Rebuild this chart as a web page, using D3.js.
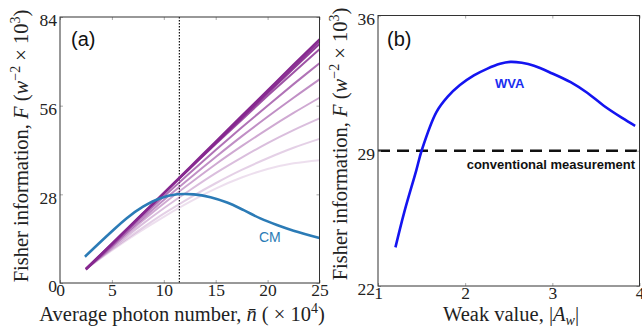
<!DOCTYPE html>
<html>
<head>
<meta charset="utf-8">
<style>
body { margin: 0; background: #fff; }
svg { display: block; }
.tick text { font-family: 'Liberation Serif', serif; font-size: 17.5px; fill: #222; }
.title { font-family: 'Liberation Serif', serif; font-size: 20.5px; fill: #222; }
.tag { font-family: 'Liberation Sans', Arial, sans-serif; font-size: 20px; fill: #111; }
</style>
</head>
<body>
<svg width="642" height="331"></svg>
<script src="https://d3js.org/d3.v7.min.js"></script>
<script>

// panel (a): Fisher information vs photon number
const photonX = [2.5, 5, 7.5, 10, 12.5, 15, 17.5, 20, 22.5, 25];
const wvaCurves = [
    [4.4, 12.4, 20.5, 28.5, 36.6, 44.7, 52.8, 60.9, 69.0, 77.0],
    [4.2, 12.2, 20.2, 28.2, 36.3, 44.3, 52.3, 60.3, 68.3, 76.3],
    [4.6, 12.5, 20.4, 28.3, 36.2, 44.1, 52.0, 59.9, 67.7, 75.5],
    [4.4, 12.3, 20.3, 28.3, 36.1, 43.9, 51.5, 59.1, 66.5, 73.8],
    [4.4, 12.0, 19.7, 27.3, 34.7, 42.0, 49.1, 56.0, 62.8, 69.4],
    [4.4, 11.7, 19.0, 26.2, 33.1, 39.8, 46.3, 52.5, 58.5, 64.3],
    [4.4, 11.4, 18.4, 25.1, 31.4, 37.5, 43.2, 48.6, 53.7, 58.5],
    [4.4, 11.0, 17.5, 23.6, 29.3, 34.7, 39.6, 44.2, 48.3, 52.0],
    [4.4, 10.6, 16.4, 21.9, 26.9, 31.5, 35.7, 39.4, 42.7, 45.5],
    [4.4, 10.3, 15.8, 20.9, 25.6, 29.8, 33.3, 36.0, 37.8, 38.8]
];
const curveOpacity = [1, 0.95, 0.9, 0.8, 0.65, 0.52, 0.4, 0.3, 0.22, 0.15];

const cmX = [2.4, 4.8, 6.4, 8.0, 9.6, 11.3, 12.9, 14.5, 16.1, 17.7, 19.3, 20.9, 22.5, 25];
const cmF = [8.3, 15.7, 20.4, 24.1, 26.7, 28.0, 28.0, 27.1, 25.4, 23.0, 20.4, 18.3, 16.5, 14.2];
const optimumN = 11.5;

const xTicksA = [0, 5, 10, 15, 20, 25];
const yTicksA = [0, 28, 56, 84];

// panel (b): Fisher information vs weak value
const weakX = [1.2, 1.3, 1.44, 1.5, 1.67, 1.8, 1.94, 2.1, 2.25, 2.4, 2.52, 2.65, 2.79, 3.0, 3.21, 3.4, 3.59, 3.8, 3.95];
const weakF = [24.0, 25.8, 28.0, 29.0, 31.0, 31.8, 32.4, 32.9, 33.24, 33.5, 33.6, 33.55, 33.4, 33.0, 32.55, 32.0, 31.33, 30.7, 30.29];
const conventionalF = 29;

const xTicksB = [1, 2, 3, 4];
const yTicksB = [22, 29, 36];

const svg = d3.select('svg');

function frame(g, x, y, xTicks, yTicks) {
    const [x0, x1] = x.range();
    const [y0, y1] = y.range();
    g.append('g').attr('transform', `translate(0,${y0})`)
        .call(d3.axisBottom(x).tickValues(xTicks).tickSize(-3).tickPadding(1).tickFormat(d3.format('d')))
        .call(s => s.select('.domain').remove())
        .call(s => s.selectAll('.tick line').attr('stroke', '#aaa'));
    g.append('g').attr('transform', `translate(0,${y1})`)
        .call(d3.axisTop(x).tickValues(xTicks).tickSize(-3).tickFormat(''))
        .call(s => s.select('.domain').remove())
        .call(s => s.selectAll('.tick line').attr('stroke', '#aaa'));
    g.append('g').attr('transform', `translate(${x0},0)`)
        .call(d3.axisLeft(y).tickValues(yTicks).tickSize(-3).tickPadding(3).tickFormat(d3.format('d')))
        .call(s => s.select('.domain').remove())
        .call(s => s.selectAll('.tick line').attr('stroke', '#aaa'))
        .call(s => s.selectAll('.tick text').attr('dy', '0.5em'));
    g.append('g').attr('transform', `translate(${x1},0)`)
        .call(d3.axisRight(y).tickValues(yTicks).tickSize(-3).tickFormat(''))
        .call(s => s.select('.domain').remove())
        .call(s => s.selectAll('.tick line').attr('stroke', '#aaa'));
    g.append('rect')
        .attr('x', x0).attr('y', y1)
        .attr('width', x1 - x0).attr('height', y0 - y1)
        .attr('fill', 'none').attr('stroke', '#333').attr('stroke-width', 1);
}

function yTitle(g, cx, cy) {
    const t = g.append('text').attr('class', 'title')
        .attr('transform', `translate(${cx},${cy}) rotate(-90)`)
        .attr('text-anchor', 'middle');
    t.append('tspan').text('Fisher information, ');
    t.append('tspan').attr('font-style', 'italic').text('F');
    t.append('tspan').text(' (');
    t.append('tspan').attr('font-style', 'italic').text('w');
    t.append('tspan').attr('font-size', '14px').attr('dy', '-8').text('−2');
    t.append('tspan').attr('dy', '8').text(' × 10');
    t.append('tspan').attr('font-size', '14px').attr('dy', '-8').text('3');
    t.append('tspan').attr('dy', '8').text(')');
}

// ---- panel (a)
const ga = svg.append('g');
const xa = d3.scaleLinear().domain([0, 25]).range([60, 319.5]);
const ya = d3.scaleLinear().domain([0, 84]).range([283, 17]);

ga.append('line')
    .attr('x1', xa(optimumN)).attr('x2', xa(optimumN))
    .attr('y1', ya(84)).attr('y2', ya(0))
    .attr('stroke', '#111').attr('stroke-width', 1.2).attr('stroke-dasharray', '1.5,1.5');

const lineA = d3.line().curve(d3.curveCatmullRom);
wvaCurves.slice().reverse().forEach((vals, i) => {
    const k = wvaCurves.length - 1 - i;
    ga.append('path')
        .attr('d', lineA(vals.map((v, j) => [xa(photonX[j]), ya(v)])))
        .attr('fill', 'none')
        .attr('stroke', '#86288f')
        .attr('stroke-opacity', curveOpacity[k])
        .attr('stroke-width', 2);
});

ga.append('path')
    .attr('d', lineA(cmF.map((v, j) => [xa(cmX[j]), ya(v)])))
    .attr('fill', 'none').attr('stroke', '#2b7bb6').attr('stroke-width', 2.6);

frame(ga, xa, ya, xTicksA, yTicksA);

ga.append('text').attr('class', 'tag').attr('x', 71).attr('y', 46).text('(a)');
ga.append('text').attr('x', 259).attr('y', 242)
    .attr('font-family', "'Liberation Sans', Arial, sans-serif").attr('font-size', 14)
    .attr('fill', '#2b7bb6').text('CM');

const xtA = ga.append('text').attr('class', 'title').attr('x', 182).attr('y', 321).attr('text-anchor', 'middle');
xtA.append('tspan').text('Average photon number, ');
xtA.append('tspan').attr('font-style', 'italic').text('n̄');
xtA.append('tspan').text(' ( × 10');
xtA.append('tspan').attr('font-size', '14px').attr('dy', '-8').text('4');
xtA.append('tspan').attr('dy', '8').text(')');
yTitle(ga, 28, 146);

// ---- panel (b)
const gb = svg.append('g');
const xb = d3.scaleLinear().domain([1, 4]).range([378, 639.5]);
const yb = d3.scaleLinear().domain([22, 36]).range([286, 15.5]);

gb.append('line')
    .attr('x1', xb(1)).attr('x2', xb(4))
    .attr('y1', yb(conventionalF)).attr('y2', yb(conventionalF))
    .attr('stroke', '#111').attr('stroke-width', 2.4).attr('stroke-dasharray', '12,7');

gb.append('path')
    .attr('d', lineA(weakF.map((v, j) => [xb(weakX[j]), yb(v)])))
    .attr('fill', 'none').attr('stroke', '#1414f0').attr('stroke-width', 2.6);

frame(gb, xb, yb, xTicksB, yTicksB);

gb.append('text').attr('class', 'tag').attr('x', 387).attr('y', 46).text('(b)');
gb.append('text').attr('x', 495).attr('y', 88)
    .attr('font-family', "'Liberation Sans', Arial, sans-serif").attr('font-size', 13)
    .attr('font-weight', 'bold').attr('fill', '#1a2ef0').text('WVA');
gb.append('text').attr('x', 635).attr('y', 169).attr('text-anchor', 'end')
    .attr('font-family', "'Liberation Sans', Arial, sans-serif").attr('font-size', 13)
    .attr('font-weight', 'bold').attr('fill', '#111').text('conventional measurement');

const xtB = gb.append('text').attr('class', 'title').attr('x', 511).attr('y', 321).attr('text-anchor', 'middle');
xtB.append('tspan').text('Weak  value, |');
xtB.append('tspan').attr('font-style', 'italic').text('A');
xtB.append('tspan').attr('font-style', 'italic').attr('font-size', '14px').attr('dy', '4').text('w');
xtB.append('tspan').attr('dy', '-4').text('|');
yTitle(gb, 347, 144);

</script>
</body>
</html>
